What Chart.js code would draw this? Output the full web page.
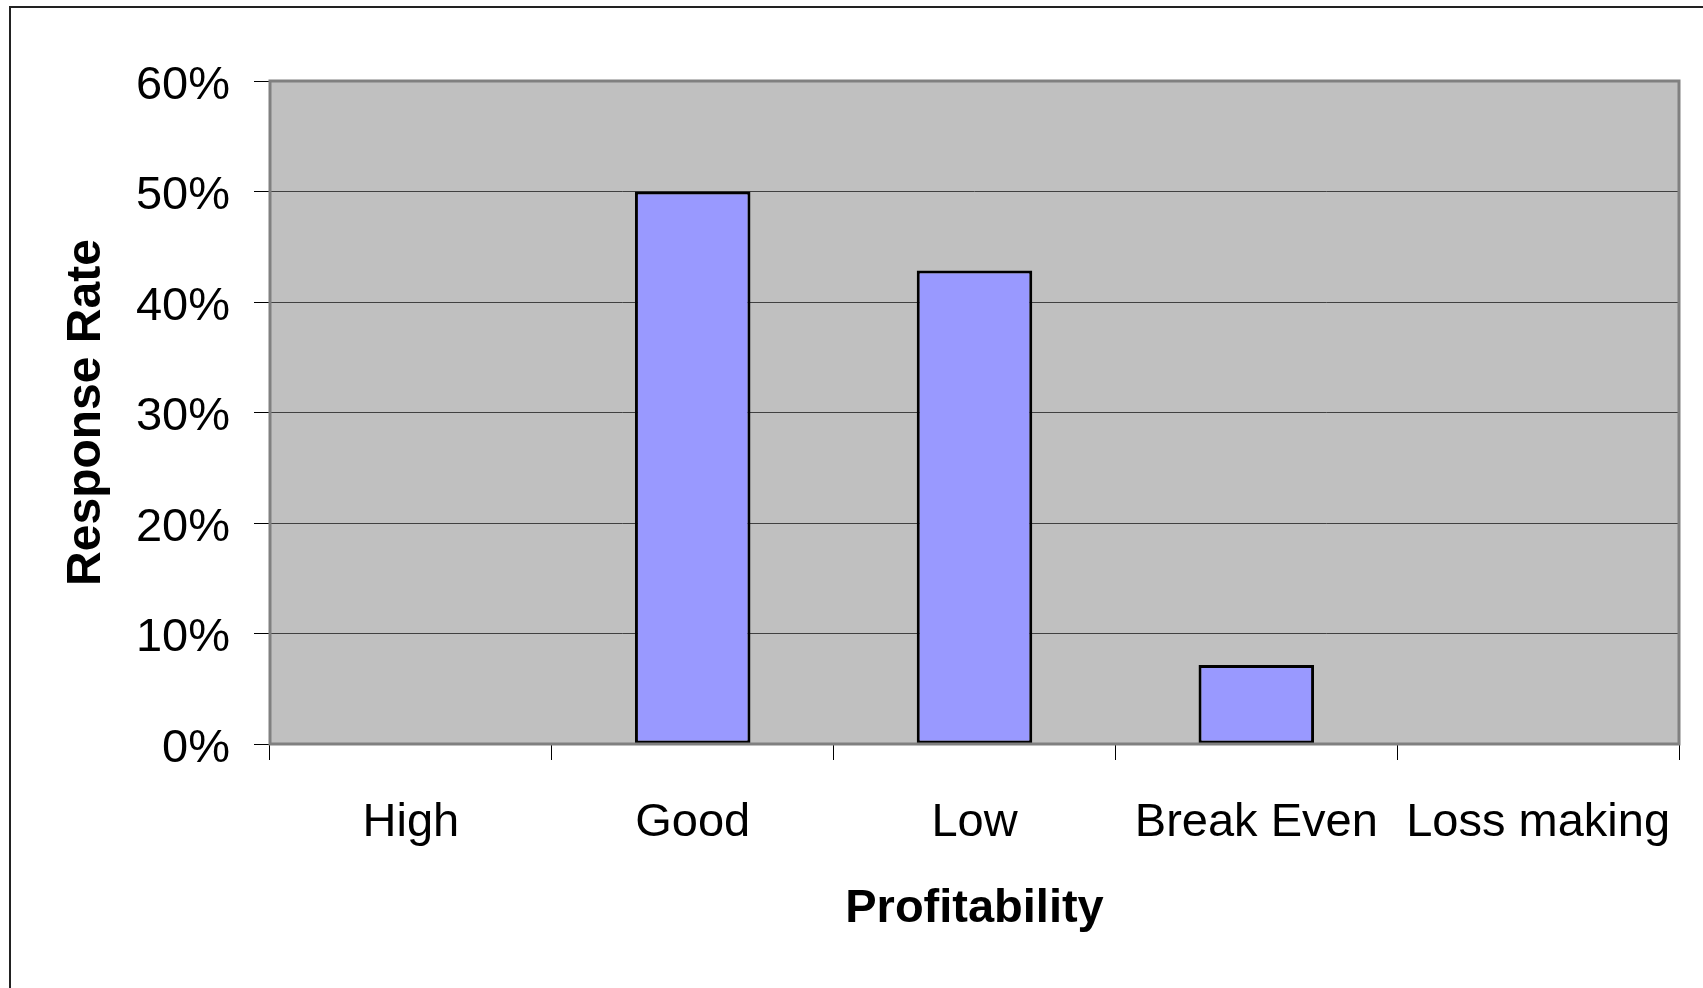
<!DOCTYPE html>
<html>
<head>
<meta charset="utf-8">
<title>Response Rate by Profitability</title>
<script src="https://cdn.jsdelivr.net/npm/chart.js@4/dist/chart.umd.min.js"></script>
<style>
  body { margin: 0; background: #fff; }
  #wrap { width: 1703px; height: 988px; }
</style>
</head>
<body>
<div id="wrap"><canvas id="respChart" width="1703" height="988"></canvas></div>
<script>
// dados
const categorias = ['High', 'Good', 'Low', 'Break Even', 'Loss making'];
const taxaResposta = [0, 50, 42.86, 7.14, 0];
const ticksY = [0, 10, 20, 30, 40, 50, 60];

// fundo cinza da área do gráfico + moldura externa
const fundoPlugin = {
    id: 'fundo',
    beforeDraw(chart) {
        const { ctx, chartArea: a } = chart;
        ctx.save();
        ctx.strokeStyle = '#222';
        ctx.lineWidth = 2;
        ctx.strokeRect(10, 7, 1800, 1100);
        ctx.fillStyle = '#c0c0c0';
        ctx.fillRect(a.left, a.top, a.right - a.left, a.bottom - a.top);
        ctx.restore();
    },
    afterDatasetsDraw(chart) {
        const { ctx, chartArea: a } = chart;
        ctx.save();
        ctx.strokeStyle = '#808080';
        ctx.lineWidth = 3;
        ctx.strokeRect(a.left, a.top, a.right - a.left, a.bottom - a.top);
        ctx.restore();
    }
};

const fonte = "'Liberation Sans', Arial, sans-serif";

new Chart(document.getElementById('respChart').getContext('2d'), {
    type: 'bar',
    data: {
        labels: categorias,
        datasets: [{
            label: 'Response Rate',
            data: taxaResposta,
            backgroundColor: '#9999ff',
            borderColor: '#000',
            borderWidth: 3,
            borderSkipped: false,
            barPercentage: 0.41,
            categoryPercentage: 1
        }]
    },
    options: {
        responsive: false,
        animation: false,
        layout: { padding: { top: 81, right: 24, left: 0, bottom: 0 } },
        plugins: {
            legend: { display: false },
            tooltip: { enabled: false }
        },
        scales: {
            x: {
                afterFit: s => { s.height = 244; s.paddingRight = 0; s.paddingLeft = 0; },
                grid: {
                    offset: true,
                    drawOnChartArea: false,
                    drawTicks: true,
                    tickLength: 16,
                    tickColor: '#000'
                },
                border: { display: false },
                ticks: {
                    autoSkip: false,
                    maxRotation: 0,
                    padding: 35,
                    color: '#000',
                    font: { family: fonte, size: 47 }
                },
                title: {
                    display: true,
                    text: 'Profitability',
                    color: '#000',
                    padding: { top: 0, bottom: 51 },
                    font: { family: fonte, size: 47, weight: 'bold' }
                }
            },
            y: {
                min: 0,
                max: 60,
                afterFit: s => { s.width = 270; },
                afterBuildTicks: s => { s.ticks = ticksY.map(v => ({ value: v })); },
                grid: {
                    color: '#404040',
                    lineWidth: 1,
                    tickLength: 16,
                    tickColor: '#000'
                },
                border: { display: false },
                ticks: {
                    padding: 24,
                    labelOffset: 5,
                    color: '#000',
                    font: { family: fonte, size: 47 },
                    callback: v => v + '%'
                },
                title: {
                    display: true,
                    text: 'Response Rate',
                    color: '#000',
                    padding: { top: 58, bottom: 0 },
                    font: { family: fonte, size: 48, weight: 'bold' }
                }
            }
        }
    },
    plugins: [fundoPlugin]
});
</script>
</body>
</html>
